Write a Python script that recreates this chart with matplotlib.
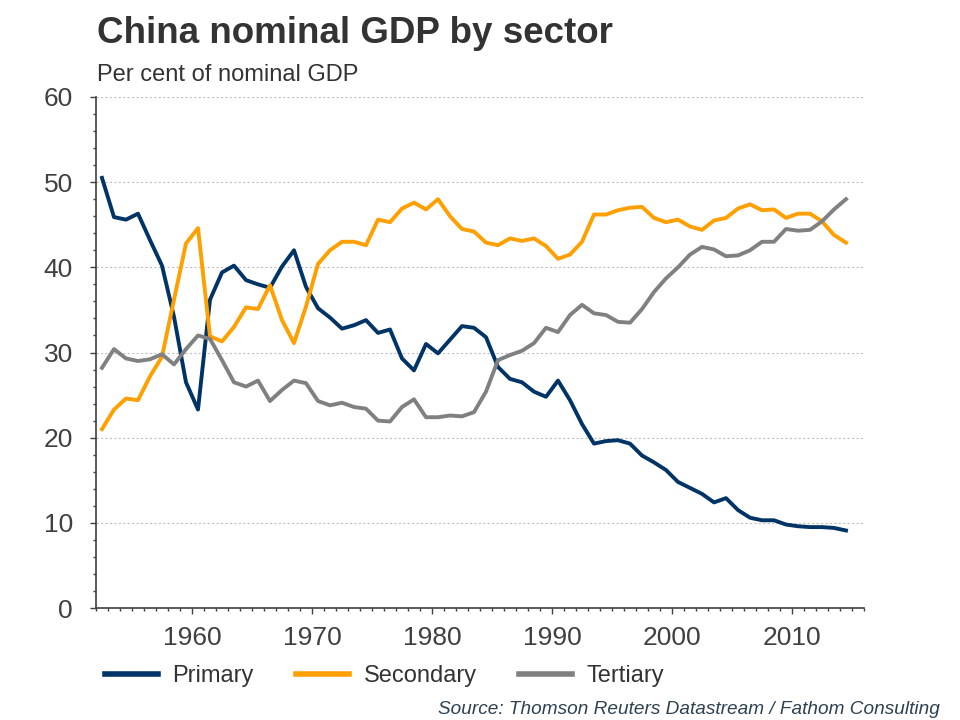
import numpy as np
import matplotlib
matplotlib.use('Agg')
from matplotlib import pyplot as plt
from matplotlib.ticker import MultipleLocator

matplotlib.rcParams['font.family'] = ['Liberation Sans', 'DejaVu Sans']

years = np.arange(1952, 2015)

primary = [50.5, 45.9, 45.6, 46.3, 43.2, 40.2, 34.2, 26.5, 23.3, 36.2,
           39.4, 40.2, 38.5, 38.0, 37.6, 40.1, 42.0, 37.7, 35.2, 34.1,
           32.8, 33.2, 33.8, 32.3, 32.7, 29.3, 27.9, 31.0, 29.9, 31.5,
           33.1, 32.9, 31.8, 28.3, 26.9, 26.5, 25.4, 24.8, 26.7, 24.4,
           21.6, 19.3, 19.6, 19.7, 19.3, 17.9, 17.1, 16.2, 14.8, 14.1,
           13.4, 12.4, 12.9, 11.5, 10.6, 10.3, 10.3, 9.8, 9.6, 9.5,
           9.5, 9.4, 9.1]

secondary = [21.0, 23.3, 24.6, 24.4, 27.2, 29.5, 36.2, 42.8, 44.6, 31.9,
             31.3, 33.0, 35.3, 35.1, 37.9, 33.8, 31.1, 35.4, 40.4, 42.0,
             43.0, 43.0, 42.6, 45.6, 45.3, 46.9, 47.6, 46.8, 48.0, 46.0,
             44.5, 44.2, 42.9, 42.6, 43.4, 43.1, 43.4, 42.5, 41.0, 41.5,
             43.0, 46.2, 46.2, 46.7, 47.0, 47.1, 45.8, 45.3, 45.6, 44.8,
             44.4, 45.5, 45.8, 46.9, 47.4, 46.7, 46.8, 45.8, 46.3, 46.3,
             45.4, 43.8, 42.9]

tertiary = [28.2, 30.4, 29.3, 29.0, 29.2, 29.8, 28.6, 30.4, 32.0, 31.6,
            29.1, 26.5, 26.0, 26.7, 24.3, 25.6, 26.7, 26.4, 24.3, 23.8,
            24.1, 23.6, 23.4, 22.0, 21.9, 23.6, 24.5, 22.4, 22.4, 22.6,
            22.5, 23.0, 25.4, 29.1, 29.7, 30.2, 31.1, 32.9, 32.4, 34.4,
            35.6, 34.6, 34.4, 33.6, 33.5, 35.1, 37.1, 38.7, 40.0, 41.5,
            42.4, 42.1, 41.3, 41.4, 42.0, 43.0, 43.0, 44.5, 44.3, 44.4,
            45.4, 46.8, 48.0]

dark = '#404040'

fig = plt.figure(figsize=(9.6, 7.2), dpi=100)
ax = fig.add_axes([96/960, 1-608/720, (864-96)/960, (608-97)/720])

# values are annual, plotted mid-year
x = years + 0.5
ax.plot(x, primary, color='#003466', lw=2.8, label='Primary', zorder=3)
ax.plot(x, secondary, color='#FF9F00', lw=2.8, label='Secondary', zorder=3)
ax.plot(x, tertiary, color='#808080', lw=2.8, label='Tertiary', zorder=3)

ax.set_xlim(1952, 2016)
ax.set_ylim(0, 60)
ax.xaxis.set_major_locator(MultipleLocator(10))
ax.xaxis.set_minor_locator(MultipleLocator(1))
ax.yaxis.set_major_locator(MultipleLocator(10))
ax.yaxis.set_minor_locator(MultipleLocator(2))

for y in range(10, 70, 10):
    ax.axhline(y, color='#BFBFBF', lw=0.8, ls=(0, (2, 2)), zorder=1)

for s in ['top', 'right']:
    ax.spines[s].set_visible(False)
for s in ['left', 'bottom']:
    ax.spines[s].set_color(dark)
    ax.spines[s].set_linewidth(1.2)

ax.tick_params(axis='both', which='major', direction='out', color=dark,
               labelcolor=dark, labelsize=19, width=1.0)
ax.tick_params(axis='y', which='major', length=4.5, pad=12)
ax.tick_params(axis='y', which='minor', length=2.4, color=dark, width=1.0)
ax.tick_params(axis='x', which='major', length=4.2, pad=9)
ax.tick_params(axis='x', which='minor', length=2.2, color=dark, width=1.0)

fig.text(97/960, 1-43/720, 'China nominal GDP by sector', fontsize=26.5,
         fontweight='bold', color='#333333', va='baseline', ha='left')
fig.text(97/960, 1-81/720, 'Per cent of nominal GDP', fontsize=17,
         color='#333333', va='baseline', ha='left')

leg = fig.legend(loc='center left', bbox_to_anchor=(105/960, 1-676/720),
                 ncol=3, frameon=False, fontsize=17, handlelength=2.25,
                 handletextpad=0.6, columnspacing=1.8, borderpad=0,
                 borderaxespad=0)
for t in leg.get_texts():
    t.set_color('#333333')
for h in leg.get_lines():
    h.set_linewidth(4)

fig.text(940/960, 1-714/720,
         'Source: Thomson Reuters Datastream / Fathom Consulting',
         fontsize=13.7, style='italic', color='#2E4150', ha='right',
         va='baseline')

plt.savefig('out.png', dpi=100)
